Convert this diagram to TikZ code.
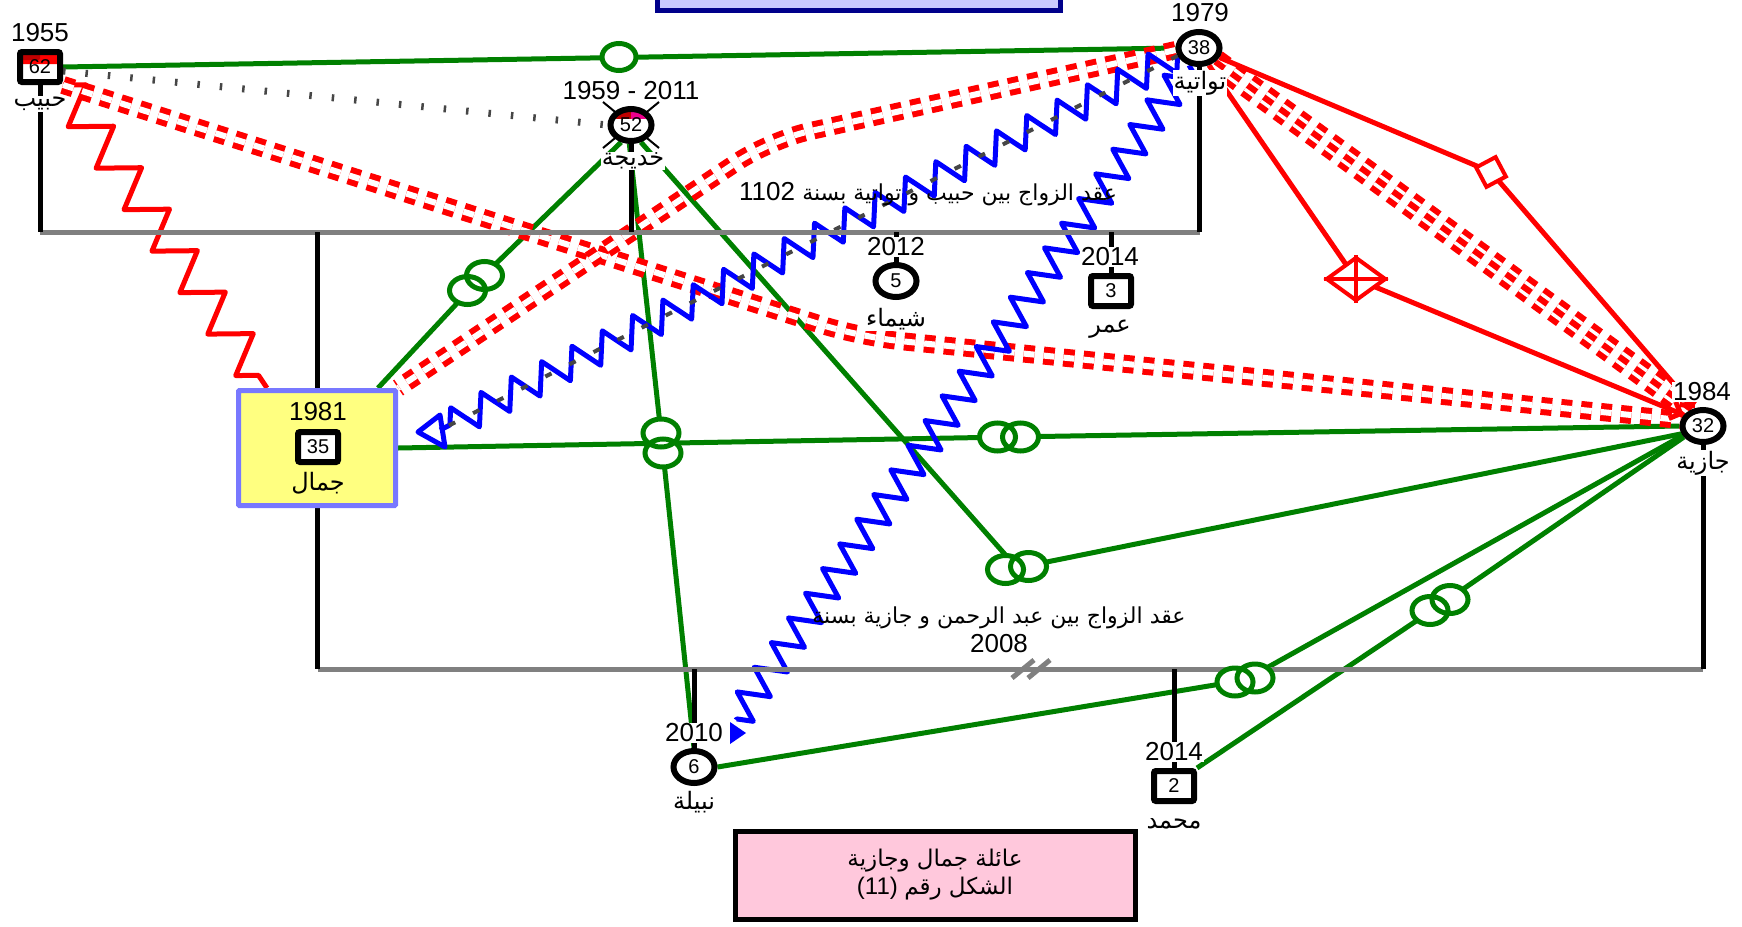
\documentclass[tikz,border=0pt]{standalone}
\usepackage{fontspec}
\setmainfont{Liberation Sans}
\newfontfamily\arabicfont[Script=Arabic]{DejaVu Sans}
\TeXXeTstate=1
\usetikzlibrary{shapes.geometric, decorations.pathmorphing, arrows.meta, calc, backgrounds}

\definecolor{gline}{RGB}{0,128,0}
\definecolor{barcol}{RGB}{128,128,128}
\definecolor{dotcol}{RGB}{70,70,70}
\definecolor{boxblue}{RGB}{120,120,255}
\definecolor{boxyellow}{RGB}{255,255,128}
\definecolor{titlefill}{RGB}{200,200,255}
\definecolor{titleline}{RGB}{0,0,139}
\definecolor{pinkfill}{RGB}{255,200,220}
\definecolor{darkred}{RGB}{192,0,0}

% two linked rings on a green connector
\newcommand\tworings[3]{%
  \fill[white] ($(#1)-(#2,#3)$) ellipse [x radius=18pt, y radius=14pt]
    ($(#1)+(#2,#3)$) ellipse [x radius=18pt, y radius=14pt];
  \draw[ring] ($(#1)-(#2,#3)$) ellipse [x radius=18pt, y radius=14pt]
    ($(#1)+(#2,#3)$) ellipse [x radius=18pt, y radius=14pt];}

\begin{document}
\begin{tikzpicture}
  [x=1pt, y=-1pt,
   male/.style={draw, rectangle, rounded corners=2pt, line width=6pt, fill=white, minimum width=40pt, minimum height=30pt, inner sep=0pt, font=\fontsize{20}{20}\selectfont},
   female/.style={draw, ellipse, line width=6pt, fill=white, minimum width=41pt, minimum height=32pt, inner sep=0pt, font=\fontsize{20}{20}\selectfont},
   yrlbl/.style={fill=white, inner sep=1pt, font=\fontsize{26}{26}\selectfont},
   nmlbl/.style={fill=white, inner sep=1pt, font=\arabicfont\fontsize{24}{24}\selectfont},
   rel/.style={line width=5pt},
   ring/.style={gline, line width=5pt},
   reddbl/.style={draw=red, double=white, double distance=6pt, line width=6pt, dash pattern=on 11pt off 9pt},
   redzz/.style={red, line width=5pt, line join=round, decorate, decoration={zigzag, segment length=50pt, amplitude=19pt}},
   bluezz/.style={blue, line width=5pt, line join=round, decorate, decoration={zigzag, segment length=34pt, amplitude=15pt}},
   famline/.style={black, line width=5pt},
   sibbar/.style={barcol, line width=5pt}]

  \useasboundingbox (0,0) rectangle (1742,926);

  % people
  \node[male, path picture={
      \fill[red] (path picture bounding box.north west) rectangle ([yshift=-12pt]path picture bounding box.north east);
      \fill[darkred] (path picture bounding box.north west) rectangle ([yshift=-8pt]path picture bounding box.north);}]
    (hab) at (40,67) {62};
  \node[female] (taw) at (1199,48) {38};
  \node[female, path picture={
      \fill[darkred] (path picture bounding box.north west) rectangle ([yshift=6pt]path picture bounding box.center);
      \fill[magenta] (path picture bounding box.north east) rectangle ([yshift=6pt]path picture bounding box.center);}]
    (kha) at (631,125) {52};
  \node[draw=boxblue, fill=boxyellow, line width=5pt, rounded corners=1pt, minimum width=157pt, minimum height=115pt] (jambox) at (317,448) {};
  \node[male] (jam) at (318,447) {35};
  \node[female] (shai) at (896,281) {5};
  \node[male] (omar) at (1111,291) {3};
  \node[female] (jaz) at (1703,426) {32};
  \node[female] (nab) at (694,767) {6};
  \node[male] (moh) at (1174,786) {2};

  % markers on the red lines
  \node[draw=red, fill=white, line width=4pt, minimum size=22pt, inner sep=0pt, rotate=28] (sqm) at (1491,172) {};
  \node[diamond, draw=red, fill=white, line width=4pt, minimum width=60pt, minimum height=44pt, inner sep=0pt] (dia) at (1356,279) {};
  \draw[red, line width=4pt] (dia.north) -- (dia.south) (dia.west) -- (dia.east);

  % boxes
  \node[draw=titleline, fill=titlefill, line width=5pt, minimum width=403pt, minimum height=60pt, inner sep=0pt] (title) at (859,-20) {};
  \node[draw, line width=5pt, fill=pinkfill, minimum width=400pt, minimum height=88pt, align=center, font=\fontsize{23}{28}\selectfont] (caption) at (935,875)
    {{\arabicfont\beginR عائلة جمال وجازية\endR}\\{\fontsize{24}{28}\selectfont(11)} {\arabicfont\beginR الشكل رقم\endR}};

  % years and names
  \node[yrlbl] (hab-y) at (40,33) {1955};
  \node[nmlbl] (hab-n) at (40,104) {\beginR حبيب\endR};
  \node[yrlbl] (taw-y) at (1200,13) {1979};
  \node[nmlbl] (taw-n) at (1200,83) {\beginR تواتية\endR};
  \node[yrlbl] (kha-y) at (631,91) {1959 - 2011};
  \node[nmlbl] (kha-n) at (633,161) {\beginR خديجة\endR};
  \node[yrlbl, fill=none] (jam-y) at (318,412) {1981};
  \node[nmlbl, fill=none] (jam-n) at (318,483) {\beginR جمال\endR};
  \node[yrlbl] (shai-y) at (896,247) {2012};
  \node[nmlbl] (shai-n) at (896,319) {\beginR شيماء\endR};
  \node[yrlbl] (omar-y) at (1110,257) {2014};
  \node[nmlbl] (omar-n) at (1110,329) {\beginR عمر\endR};
  \node[yrlbl] (jaz-y) at (1702,392) {1984};
  \node[nmlbl] (jaz-n) at (1703,463) {\beginR جازية\endR};
  \node[yrlbl] (nab-y) at (694,733) {2010};
  \node[nmlbl] (nab-n) at (694,802) {\beginR نبيلة\endR};
  \node[yrlbl] (moh-y) at (1174,752) {2014};
  \node[nmlbl] (moh-n) at (1174,824) {\beginR محمد\endR};

  \node[font=\fontsize{26}{26}\selectfont] (wed1) at (928,194)
    {1102 {\arabicfont\fontsize{22}{22}\selectfont\beginR عقد الزواج بين حبيب و تواتية بسنة\endR}};
  \node[font=\fontsize{26}{29}\selectfont, align=center] (wed2) at (999,630)
    {{\arabicfont\fontsize{22}{22}\selectfont\beginR عقد الزواج بين عبد الرحمن و جازية بسنة\endR}\\2008};

  \coordinate (hjbend) at (860,337);
  \coordinate (twbend) at (770,140);
  \coordinate (jamtip) at (440,430);
  \coordinate (nabtip) at (736,720);
  \coordinate (htring) at (619,57);
  \coordinate (khajam) at (476,283);
  \coordinate (khanab) at (662,443);
  \coordinate (kjring) at (1017,568);
  \coordinate (jjring) at (1009,437);
  \coordinate (njring) at (1245,680);
  \coordinate (mjring) at (1440,605);
  \coordinate (bar1w) at (40,232);
  \coordinate (bar1e) at (1200,232);
  \coordinate (bar2w) at (318,669);
  \coordinate (bar2e) at (1703,669);
  \coordinate (divm) at (1032,669);

  \begin{scope}[on background layer]
    % deceased mark
    \draw[black, line width=2pt] ($(kha)+(-28,-23)$) -- ($(kha)+(28,23)$)
      ($(kha)+(28,-23)$) -- ($(kha)+(-28,23)$);

    % green
    \draw[gline, rel] (hab.east) -- (taw.west);
    \draw[gline, rel] (kha.-120) -- (khajam) -- ([xshift=-20pt]jambox.north east);
    \draw[gline, rel] (kha.-95) -- (khanab) -- (nab.north);
    \draw[gline, rel] (kha.-60) -- (kjring) -- (jaz.200);
    \draw[gline, rel] (jambox.east) -- (jjring) -- (jaz.west);
    \draw[gline, rel] (nab.east) -- (njring) -- (jaz.205);
    \draw[gline, rel] (moh.north east) -- (mjring) -- (jaz.210);

    % grey dotted
    \draw[dotcol, line width=7pt, dash pattern=on 2.5pt off 20pt] (hab.-10) -- (kha.west);

    % red
    \draw[redzz] (hab.south east) -- ([xshift=-50pt]jambox.north);
    \draw[reddbl, rounded corners=40pt] (hab.south east) -- (hjbend) -- (jaz.165);
    \draw[reddbl, rounded corners=40pt] (taw.185) -- (twbend) -- (jambox.north east);
    \draw[reddbl, double distance=13pt] (taw.-40) -- (jaz.125);
    \draw[red, line width=6pt, dash pattern=on 11pt off 9pt] (taw.-40) -- (jaz.125);
    \draw[red, rel, -{Straight Barb[length=9pt, width=18pt]}] (taw.-25) -- (sqm.center) -- (jaz.115);
    \draw[red, rel, -{Straight Barb[length=9pt, width=18pt]}] (taw.-60) -- (dia.center) -- (jaz.150);

    % blue
    \draw[bluezz] (taw.200) -- (jamtip);
    \draw[dotcol, line width=4pt, dash pattern=on 7pt off 20pt] (taw.200) -- (jamtip);
    \draw[bluezz, decoration={segment length=30pt}] (taw.240) -- (nabtip);

    % families
    \draw[sibbar] (bar1w) -- (bar1e);
    \draw[famline] (hab.south) -- (hab.south |- bar1w);
    \draw[famline] (taw.south) -- (taw.south |- bar1e);
    \draw[famline] (kha.south) -- (kha.south |- bar1w);
    \draw[famline] (jambox.north) -- (jambox.north |- bar1w);
    \draw[famline] (shai.north) -- (shai.north |- bar1w);
    \draw[famline] (omar.north) -- (omar.north |- bar1w);
    \draw[sibbar] (bar2w) -- (bar2e);
    \draw[famline] (jambox.south) -- (jambox.south |- bar2w);
    \draw[famline] (jaz.south) -- (jaz.south |- bar2e);
    \draw[famline] (nab.north) -- (nab.north |- bar2w);
    \draw[famline] (moh.north) -- (moh.north |- bar2w);
  \end{scope}

  % divorce
  \draw[sibbar] ($(divm)+(-20,9)$) -- ++(22,-18) ($(divm)+(-4,9)$) -- ++(22,-18);

  % rings
  \fill[white] (htring) ellipse [x radius=17pt, y radius=13.5pt];
  \draw[ring] (htring) ellipse [x radius=17pt, y radius=13.5pt];
  \tworings{khajam}{8.5}{-7.5}
  \tworings{khanab}{1}{10}
  \tworings{kjring}{11.5}{-1.5}
  \tworings{jjring}{11.5}{0}
  \tworings{njring}{10}{-2}
  \tworings{mjring}{10}{-5.5}

  % arrow heads
  \draw[blue, line width=5pt, line join=round] ($(jamtip)+(-22,2)$) -- ++(22,-17) -- ++(5,32) -- cycle;
  \fill[blue] ($(nabtip)+(-6,2)$) -- ++(0,22) -- ++(16,-11) -- cycle;
  \node[yrlbl] at (nab-y) {2010};
\end{tikzpicture}
\end{document}
